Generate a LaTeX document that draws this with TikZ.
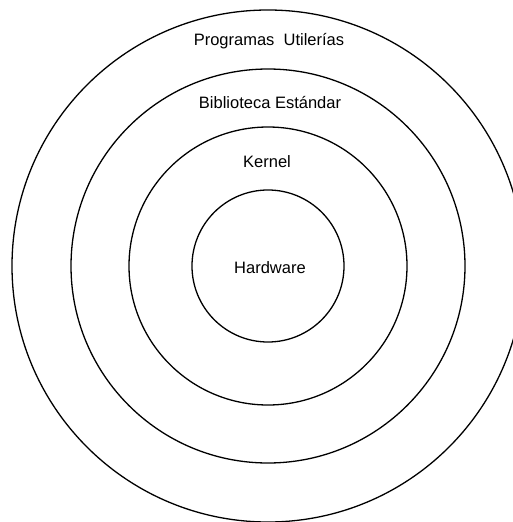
\documentclass[tikz,border=0pt]{standalone}
\usepackage{fontspec}
\setmainfont{Liberation Sans}
\usetikzlibrary{positioning}

\begin{document}
\begin{tikzpicture}[
    x=1pt, y=-1pt,
    ring/.style={line width=1.3pt, black},
    layerlabel/.style={font=\fontsize{16.5}{19}\selectfont, inner sep=0pt, anchor=center},
]

\useasboundingbox (0,0) rectangle (513,522);

\coordinate (c) at (268,266);

% Layers, outer to inner
\draw[ring] (c) circle[radius=256pt];
\draw[ring] (c) circle[radius=197pt];
\draw[ring] (c) circle[radius=139pt];
\draw[ring] (c) circle[radius=76pt];

% Labels
\node[layerlabel] (prog) at (269,41) {Programas~~Utilerías};
\node[layerlabel] (lib) at (270,103) {Biblioteca Estándar};
\node[layerlabel] (kern) at (267,162) {Kernel};
\node[layerlabel] (hw) at (270,268) {Hardware};

\end{tikzpicture}
\end{document}
